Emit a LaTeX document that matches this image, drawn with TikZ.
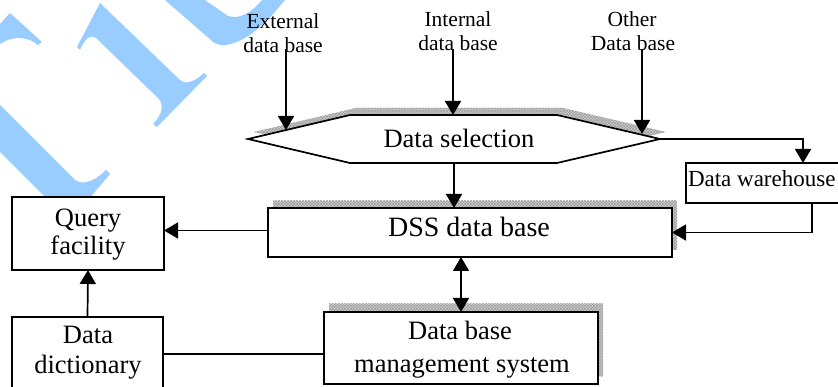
\documentclass[tikz,border=0pt]{standalone}
\usepackage{fontspec}
\setmainfont{Liberation Serif}
\usetikzlibrary{arrows.meta,patterns,backgrounds}
\definecolor{wm}{RGB}{153,204,255}
\begin{document}
\begin{tikzpicture}[x=1pt,y=-1pt,
  every node/.style={inner sep=0pt, outer sep=0pt},
  boxnode/.style={draw, line width=1.7pt, fill=white, rectangle},
  big/.style={font=\fontsize{26.5}{30}\selectfont},
  bigger/.style={font=\fontsize{28}{32}\selectfont},
  mid/.style={font=\fontsize{23}{27}\selectfont},
  small/.style={font=\fontsize{21.5}{24}\selectfont},
  conn/.style={line width=1.7pt},
  arr/.style={conn, -{Triangle[width=16pt,length=14pt]}},
  arrboth/.style={conn, {Triangle[width=16pt,length=14pt]}-{Triangle[width=16pt,length=14pt]}},
  shadefill/.style={preaction={fill=gray!40}, pattern=crosshatch, pattern color=gray!75},
]
\useasboundingbox (0,0) rectangle (838,387);

% watermark (light blue letter strokes)
\fill[wm] (0,24) -- (10,13) -- (42,42) -- (38,45) .. controls (30,38) and (15,34) .. (0,44) -- cycle;
\fill[wm] (0,105) -- (73,178) .. controls (78,184) and (90,186) .. (106,170) -- (110,174) -- (88,200) -- (48,200) -- (0,152) -- cycle;
\fill[wm] (100,3) -- (180,80) .. controls (184,84) and (192,84) .. (204,73) -- (207,76) -- (157,127) -- (153,124)
  .. controls (163,114) and (164,104) .. (158,98) -- (96,38) .. controls (91,34) and (85,38) .. (80,50) -- (77,47) -- cycle;
\fill[wm] (165,0) -- (212,41) .. controls (220,48) and (232,46) .. (250,35) -- (268,20) -- (285,0) -- (262,0)
  .. controls (252,12) and (240,20) .. (228,16) -- (205,0) -- cycle;

% hexagon coordinates
\coordinate (hL) at (248,139);
\coordinate (hTL) at (350,115);
\coordinate (hTR) at (557,115);
\coordinate (hR) at (660,139);
\coordinate (hBR) at (557,163);
\coordinate (hBL) at (350,163);
\coordinate (hB) at (454,163);

% boxes
\node[boxnode, minimum width=404pt, minimum height=49pt] (dss) at (470,232.5) {};
\node[boxnode, minimum width=274pt, minimum height=72pt] (dbms) at (461,348) {};
\node[boxnode, minimum width=152pt, minimum height=73pt] (qf) at (88,233.5) {};
\node[boxnode, minimum width=151pt, minimum height=74pt] (dd) at (87.5,354) {};
\node[boxnode, minimum width=234pt, minimum height=40pt] (wh) at (803,183) {};

% shadows
\begin{scope}[on background layer]
\path[shadefill] ([shift={(6,-7)}]hL) -- ([shift={(6,-7)}]hTL) -- ([shift={(6,-7)}]hTR) -- ([shift={(6,-7)}]hR)
  -- ([shift={(6,-7)}]hBR) -- ([shift={(6,-7)}]hBL) -- cycle;
\path[shadefill] ([shift={(5,-7)}]dss.south west) rectangle ([shift={(5,-7)}]dss.north east);
\path[shadefill] ([shift={(5,-8)}]dbms.south west) rectangle ([shift={(5,-8)}]dbms.north east);
\end{scope}

\draw[line width=1.7pt, fill=white] (hL) -- (hTL) -- (hTR) -- (hR) -- (hBR) -- (hBL) -- cycle;

% texts
\node[big, anchor=base] (selT) at (459,148) {Data selection};
\node[bigger, anchor=base] (dssT) at (469,237) {DSS data base};
\node[big, anchor=base] (qf1) at (88,227) {Query};
\node[big, anchor=base] (qf2) at (88,255) {facility};
\node[big, anchor=base] (dd1) at (88,343) {Data};
\node[big, anchor=base] (dd2) at (88,373) {dictionary};
\node[big, anchor=base] (db1) at (460,339) {Data base};
\node[big, anchor=base] (db2) at (462,372) {management system};
\node[mid, anchor=base west] (whT) at (688,187) {Data warehouse};
\node[small, anchor=base] (ext1) at (283,29) {External};
\node[small, anchor=base] (ext2) at (283,53) {data base};
\node[small, anchor=base] (int1) at (458,27) {Internal};
\node[small, anchor=base] (int2) at (458,51) {data base};
\node[small, anchor=base] (oth1) at (632,27) {Other};
\node[small, anchor=base] (oth2) at (633,51) {Data base};

% connector ends
\coordinate (eS) at (286,49);  \coordinate (eT) at (286,130);
\coordinate (iS) at (453,49);  \coordinate (iT) at (453,115);
\coordinate (oS) at (642,49);  \coordinate (oT) at (642,134);

% connectors
\draw[arr] (eS) -- (eT);
\draw[arr] (iS) -- (iT);
\draw[arr] (oS) -- (oT);
\draw[arr] (hB) -- (hB |- dss.north);
\draw[arr] (hR) -| (wh.north);
\draw[arr] ([xshift=9pt]wh.south) |- (dss.east);
\draw[arr] ([yshift=2pt]dss.west) -- ([yshift=2pt]dss.west -| qf.east);
\draw[arr] (dd.north) -- (qf.south);
\draw[conn] (dd.east) -- (dd.east -| dbms.west);
\draw[arrboth] (dss.south -| dbms.north) -- (dbms.north);
\end{tikzpicture}
\end{document}
